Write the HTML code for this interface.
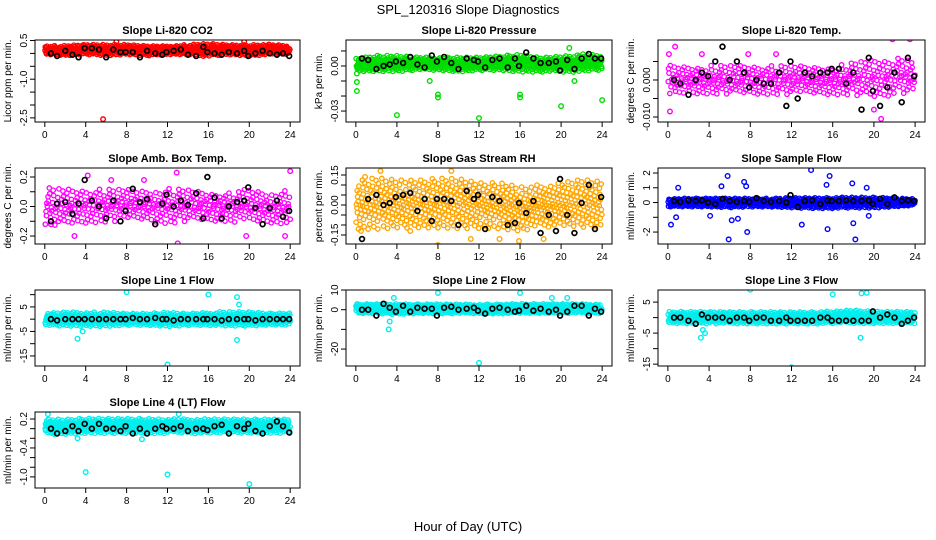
<!DOCTYPE html>
<html><head><meta charset="utf-8">
<style>
html,body{margin:0;padding:0;background:#fff;}
svg{display:block;font-family:"Liberation Sans",sans-serif;}
</style></head>
<body>
<svg id="chart" width="936" height="540" viewBox="0 0 936 540" xmlns="http://www.w3.org/2000/svg">
<text x="468" y="14" text-anchor="middle" font-size="13">SPL_120316  Slope Diagnostics</text>
<text x="468" y="531" text-anchor="middle" font-size="13">Hour of Day (UTC)</text>
</svg>
<script>
// ---- shared data ----
const xTicks = [0,4,8,12,16,20,24];
const bandHours = [0,2,4,6,8,10,12,14,16,18,20,22,24];
const blackHours = [0.6,1.2,2.0,2.7,3.3,3.9,4.6,5.3,6.0,6.7,7.4,7.9,8.6,9.3,10.0,10.8,11.5,11.9,12.6,13.3,14.0,14.8,15.5,15.9,16.6,17.3,18.0,18.8,19.5,19.9,20.6,21.3,22.0,22.7,23.3,23.9];

// ---- panel titles ----
const titles = ["Slope Li-820 CO2","Slope Li-820 Pressure","Slope Li-820 Temp.","Slope Amb. Box Temp.","Slope Gas Stream RH","Slope Sample Flow","Slope Line 1 Flow","Slope Line 2 Flow","Slope Line 3 Flow","Slope Line 4 (LT) Flow"];
const yTitles = ["Licor ppm per min.","kPa per min.","degrees C per min.","degrees C per min.","percent per min.","ml/min per min.","ml/min per min.","ml/min per min.","ml/min per min.","ml/min per min."];

// ---- y ticks / labels ----
const yTicks0 = [0.5,0,-0.5,-1.0,-1.5,-2.0,-2.5];            const yLabels0 = ["0.5","","","-1.0","","","-2.5"];
const yTicks1 = [0.01,0,-0.01,-0.02,-0.03];                  const yLabels1 = ["","0.00","","","-0.03"];
const yTicks2 = [0.005,0,-0.005,-0.01];                      const yLabels2 = ["","0.000","","-0.010"];
const yTicks3 = [0.2,0.1,0,-0.1,-0.2];                       const yLabels3 = ["0.2","","0.0","","-0.2"];
const yTicks4 = [0.15,0.1,0.05,0,-0.05,-0.1,-0.15];          const yLabels4 = ["0.15","","","0.00","","","-0.15"];
const yTicks5 = [2,1,0,-1,-2];                               const yLabels5 = ["2","1","0","","-2"];
const yTicks6 = [10,5,0,-5,-10,-15];                         const yLabels6 = ["","5","","-5","","-15"];
const yTicks7 = [10,0,-10,-20];                              const yLabels7 = ["10","0","","-20"];
const yTicks8 = [5,0,-5,-10,-15];                            const yLabels8 = ["5","","-5","","-15"];
const yTicks9 = [0.2,0,-0.2,-0.4,-0.6,-0.8,-1.0];            const yLabels9 = ["0.2","","","-0.4","","","-1.0"];

// ---- dense cloud envelope (lower/upper every 2 h) ----
const bandLo0 = [-0.05,-0.1,-0.05,-0.1,-0.05,-0.1,-0.05,-0.05,-0.1,-0.05,-0.1,-0.05,-0.05];
const bandHi0 = [0.3,0.3,0.35,0.35,0.35,0.3,0.3,0.35,0.4,0.35,0.35,0.35,0.3];
const bandLo1 = [-0.004,-0.004,-0.004,-0.003,-0.003,-0.004,-0.003,-0.003,-0.004,-0.004,-0.004,-0.004,-0.003];
const bandHi1 = [0.005,0.007,0.007,0.006,0.006,0.006,0.006,0.007,0.008,0.006,0.007,0.008,0.007];
const bandLo2 = [-0.005,-0.004,-0.004,-0.004,-0.004,-0.004,-0.004,-0.004,-0.004,-0.004,-0.005,-0.004,-0.004];
const bandHi2 = [0.004,0.004,0.004,0.004,0.004,0.004,0.004,0.004,0.004,0.005,0.006,0.006,0.005];
const bandLo3 = [-0.13,-0.14,-0.12,-0.11,-0.1,-0.1,-0.12,-0.1,-0.1,-0.1,-0.12,-0.12,-0.13];
const bandHi3 = [0.13,0.12,0.12,0.12,0.12,0.12,0.13,0.12,0.1,0.1,0.12,0.1,0.11];
const bandLo4 = [-0.13,-0.13,-0.12,-0.12,-0.12,-0.12,-0.12,-0.12,-0.13,-0.11,-0.11,-0.12,-0.12];
const bandHi4 = [0.12,0.14,0.13,0.13,0.14,0.14,0.12,0.12,0.1,0.1,0.11,0.13,0.12];
const bandLo5 = [-0.3,-0.3,-0.3,-0.35,-0.3,-0.3,-0.35,-0.4,-0.4,-0.4,-0.4,-0.3,-0.2];
const bandHi5 = [0.25,0.3,0.3,0.3,0.3,0.3,0.35,0.35,0.35,0.35,0.35,0.3,0.25];
const bandLo6 = [-2.5,-3,-3,-3,-2.5,-2.5,-3,-2.5,-2.5,-3,-3,-2.5,-2.5];
const bandHi6 = [2.5,3,3,3,2.5,2.5,3,2.5,3,3,3,2.5,2.5];
const bandLo7 = [-2,-2,-2.5,-2,-2,-2,-2,-2,-2,-2,-2,-2,-2];
const bandHi7 = [3,3,3,3,3,3,3,3,3,3,3,3,3];
const bandLo8 = [-2,-2,-2,-2,-2,-2,-2,-2,-2,-2,-2,-2,-2];
const bandHi8 = [2,2,2,2,2,2,2,2,2,2.5,2,2,2];
const bandLo9 = [-0.12,-0.12,-0.1,-0.1,-0.1,-0.1,-0.1,-0.1,-0.1,-0.1,-0.1,-0.1,-0.1];
const bandHi9 = [0.2,0.2,0.22,0.22,0.22,0.22,0.2,0.2,0.2,0.2,0.2,0.2,0.2];

// ---- coloured outliers ----
const outH0 = [5.7,7.0,19.5,15.5];               const outV0 = [-2.55,0.45,0.45,-0.1];
const outH1 = [0.1,0.1,0.1,4,8,8,12,16,16,20,24,20.8,7.2,21.3]; const outV1 = [-0.005,-0.0107,-0.0167,-0.0327,-0.019,-0.021,-0.0347,-0.019,-0.021,-0.0267,-0.0227,0.012,-0.01,-0.01];
const outH2 = [0.1,0.7,3.3,0.2,20.7,21.8,23.5,7.8,10.5,20.0]; const outV2 = [0.007,0.009,0.007,-0.0085,-0.0105,0.011,0.011,0.007,0.007,-0.008];
const outH3 = [4.2,12.9,13.0,19.7,24.0,23.5,2.9,9.7,0.6,6.5]; const outV3 = [0.21,0.23,-0.25,-0.2,0.24,-0.2,-0.2,0.18,-0.12,0.18];
const outH4 = [2.4,9.3,8.0,11.2,14.0,18.3,15.9,0.9,5.3,0.5]; const outV4 = [0.17,0.17,-0.2,-0.17,-0.17,-0.17,-0.18,0.14,-0.13,-0.13];
const outH5 = [0.3,0.8,1.0,5.8,5.9,6.2,7.4,7.7,7.6,13.9,13.0,15.4,15.7,15.5,17.9,18.2,18.0,19.5,19.3,4.1,5.2,6.8]; const outV5 = [-1.5,-1.0,1.0,1.8,-2.5,-1.2,1.4,-2.0,1.1,2.2,-1.5,1.2,1.8,-1.8,1.3,-2.5,-1.4,-0.9,1.0,-0.9,1.1,-1.1];
const outH6 = [8,16,18.8,19.0,3.2,12,18.8,3.7]; const outV6 = [11,10,9,6,-8,-18.5,-8.5,-5];
const outH7 = [8,16,3.2,3.3,12,3.7,19.1,20.6]; const outV7 = [8.5,8.5,-10,-6,-27,6,6,6];
const outH8 = [8,16,18.8,19.3,3.2,3.6,12,18.7,3.4]; const outV8 = [9,7.5,7.8,8,-6.5,-5,-16,-6.5,-4];
const outH9 = [0.3,4,12,20,3.2,13.1,9.5]; const outV9 = [0.3,-0.9,-0.95,-1.15,-0.2,0.3,-0.22];

// ---- black (hourly summary) points ----
const black0 = [0.0,-0.1,0.1,-0.05,-0.15,0.2,0.2,0.15,-0.15,0.15,0.05,0.05,0.05,-0.15,0.1,0.0,-0.05,0.05,0.1,0.15,-0.05,-0.1,0.25,0.05,0.0,-0.05,0.05,0.0,0.1,-0.1,0.0,0.1,0.0,-0.05,0.0,-0.1];
const black1 = [0.005,0.004,-0.002,0.0,0.001,0.003,0.002,0.006,0.001,-0.001,0.007,0.003,0.006,0.002,-0.002,0.005,0.004,0.003,-0.001,0.004,0.005,-0.001,0.005,0.0,0.009,0.005,0.002,0.002,0.003,-0.003,0.004,-0.002,0.005,0.008,0.005,0.005];
const black2 = [0.0,-0.001,-0.004,0.0,0.002,0.001,0.005,0.009,0.0,0.005,0.002,-0.002,0.0,-0.001,-0.001,0.002,-0.007,0.005,-0.005,0.002,0.001,0.002,0.002,0.003,0.003,-0.001,0.002,-0.008,0.006,-0.003,-0.007,-0.002,0.002,-0.006,0.006,0.001];
const black3 = [-0.1,0.02,0.03,-0.05,0.02,0.18,0.04,0.0,-0.08,0.04,-0.1,-0.03,0.12,0.03,0.05,-0.12,0.02,0.08,0.0,0.04,0.01,0.09,-0.08,0.2,0.06,-0.08,0.0,0.03,0.04,0.13,-0.01,-0.12,-0.01,0.04,-0.07,-0.03];
const black4 = [-0.17,0.03,0.05,0.0,0.01,0.04,0.05,0.06,-0.03,0.03,-0.08,0.03,0.03,0.02,-0.1,0.07,0.03,0.05,-0.12,0.04,0.02,-0.1,-0.09,0.01,-0.04,0.02,-0.14,-0.05,-0.13,0.13,-0.05,-0.14,0.01,0.1,-0.12,0.04];
const black5 = [0.1,0.05,0.15,0.1,0.15,0.0,-0.1,0.25,0.1,0.05,0.1,0.05,0.3,0.1,0.05,0.1,0.0,0.5,-0.3,0.1,0.15,-0.1,0.15,0.1,0.1,0.15,0.1,0.1,0.15,-0.1,0.25,-0.1,0.35,0.1,0.15,0.1];
const black6 = [0,-0.5,0,0,0,0,0,0,0,0,0,0,0.5,0,0,0.5,0,0,-0.5,0,0,0,0,0,0,-0.5,0,0,0,0,-0.5,0,0,0,0,0];
const black7 = [0,0,-3,3,1,-1,2,-1,1,0.5,0.5,-3,1,1.5,0,0.5,1,-0.5,-2,0.5,1,0,-1,-0.5,2,-0.5,0.5,-1,0,-3,-1,2,2,-3,0.5,-1];
const black8 = [0,0,-1,-2,1,0,0,0,-1,0,0,-1,0,0,-1,-1,0,-1,-1,-1,-1,0,0,-1,-1,-1,-1,-1,-1,2,0,1,0,-2,-1,0];
const black9 = [0.0,-0.1,-0.05,0.05,-0.05,0.1,0.0,0.1,0.0,0.0,-0.05,0.05,-0.1,0.0,-0.1,0.0,0.05,0.0,0.0,0.05,-0.05,0.0,0.0,-0.03,0.05,0.08,-0.1,0.05,0.0,0.1,-0.05,-0.1,0.05,0.15,0.05,-0.08];

// ---- layout (positions/styles, not data) ----
const yDomains = [[-2.66,0.52],[-0.0373,0.0173],[-0.01135,0.0108],[-0.254,0.261],[-0.195,0.185],[-2.81,2.34],[-19.1,11.9],[-28.6,10.0],[-15.6,8.9],[-1.23,0.345]];
const colX = [[35,300],[346,612],[658,925]];
const rowY = [[40,122],[168,244],[290,366],[412,488]];
const colors = ["#ff0000","#00dd00","#ff00ff","#ff00ff","#ffa500","#0000ff","#00eeee","#00eeee","#00eeee","#00eeee"];
const cloudCount = [650,650,420,420,650,650,650,650,650,650];

const yTicksAll=[yTicks0,yTicks1,yTicks2,yTicks3,yTicks4,yTicks5,yTicks6,yTicks7,yTicks8,yTicks9];
const yLabelsAll=[yLabels0,yLabels1,yLabels2,yLabels3,yLabels4,yLabels5,yLabels6,yLabels7,yLabels8,yLabels9];
const bandLoAll=[bandLo0,bandLo1,bandLo2,bandLo3,bandLo4,bandLo5,bandLo6,bandLo7,bandLo8,bandLo9];
const bandHiAll=[bandHi0,bandHi1,bandHi2,bandHi3,bandHi4,bandHi5,bandHi6,bandHi7,bandHi8,bandHi9];
const outHAll=[outH0,outH1,outH2,outH3,outH4,outH5,outH6,outH7,outH8,outH9];
const outVAll=[outV0,outV1,outV2,outV3,outV4,outV5,outV6,outV7,outV8,outV9];
const blackAll=[black0,black1,black2,black3,black4,black5,black6,black7,black8,black9];

const NS="http://www.w3.org/2000/svg";
const svg=document.getElementById('chart');
function mk(tag,attrs,parent){const e=document.createElementNS(NS,tag);for(const k in attrs)e.setAttribute(k,attrs[k]);(parent||svg).appendChild(e);return e;}
function interp(arr,h){const i=Math.min(11,Math.max(0,Math.floor(h/2)));const t=(h-bandHours[i])/2;return arr[i]+(arr[i+1]-arr[i])*t;}
function frac(v){return v-Math.floor(v);}

for(let p=0;p<10;p++){
  const col=p%3,row=Math.floor(p/3);
  const [x0,x1]=colX[col],[y0,y1]=rowY[row];
  const xScale=h=>x0+(h+0.96)/25.92*(x1-x0);
  const [d0,d1]=yDomains[p];
  const yScale=v=>y1-(v-d0)/(d1-d0)*(y1-y0);
  const g=mk('g',{});
  
  
  const cx=(x0+x1)/2;
  const t=mk('text',{x:cx,y:y0-6,'text-anchor':'middle','font-size':11,'font-weight':'bold'},g);
  t.textContent=titles[p];
  
  
  const yt=mk('text',{x:0,y:0,'text-anchor':'middle','font-size':10,transform:`translate(${x0-24},${(y0+y1)/2}) rotate(-90)`},g);
  yt.textContent=yTitles[p];
  
  
  const cid='clip'+p;
  const cp=mk('clipPath',{id:cid},g);mk('rect',{x:x0,y:y0,width:x1-x0,height:y1-y0},cp);
  const pts=mk('g',{'clip-path':`url(#${cid})`},g);
  
  
  // cloud: scattered within the envelope (low-discrepancy placement)
  let d='';
  const n=cloudCount[p];
  for(let i=1;i<=n;i++){
    const h=frac(i*0.6180339887+p*0.13)*24;
    const u=frac(i*0.7548776662+p*0.29);
    const lo=interp(bandLoAll[p],h),hi=interp(bandHiAll[p],h);
    const v=lo+(hi-lo)*(0.5+(u-0.5)*(0.6+0.4*Math.abs(u-0.5)*2));
    const X=xScale(h),Y=yScale(v);
    d+=`M${(X-2.2).toFixed(1)},${Y.toFixed(1)}a2.2,2.2 0 1,0 4.4,0a2.2,2.2 0 1,0 -4.4,0`;
  }
  const band=mk('path',{d:d,fill:'none',stroke:colors[p],'stroke-width':1.3},pts);
  
  
  outHAll[p].forEach((h,i)=>{
    const c=mk('circle',{cx:xScale(h),cy:yScale(outVAll[p][i]),r:2.3,fill:'none',stroke:colors[p],'stroke-width':1.4},pts);
    
    
  });
  blackHours.forEach((h,i)=>{
    const c=mk('circle',{cx:xScale(h),cy:yScale(blackAll[p][i]),r:2.4,fill:'none',stroke:'#000','stroke-width':1.7},pts);
    
    
  });
  const b=mk('rect',{x:x0,y:y0,width:x1-x0,height:y1-y0,fill:'none',stroke:'#000','stroke-width':1},g);
  
  
  const xa=mk('g',{},g);
  
  
  mk('line',{x1:xScale(0),x2:xScale(24),y1:y1,y2:y1,stroke:'#000'},xa);
  xTicks.forEach(v=>{
    mk('line',{x1:xScale(v),x2:xScale(v),y1:y1,y2:y1+5,stroke:'#000'},xa);
    const tl=mk('text',{x:xScale(v),y:y1+16,'text-anchor':'middle','font-size':10},xa);
    tl.textContent=v;
    
    
  });
  const ya=mk('g',{},g);
  
  
  const yt0=yTicksAll[p];
  mk('line',{x1:x0,x2:x0,y1:yScale(yt0[0]),y2:yScale(yt0[yt0.length-1]),stroke:'#000'},ya);
  yt0.forEach((v,i)=>{
    const Y=yScale(v);
    mk('line',{x1:x0-5,x2:x0,y1:Y,y2:Y,stroke:'#000'},ya);
    const lab=yLabelsAll[p][i];
    if(lab){
      const tl=mk('text',{x:0,y:0,'text-anchor':'middle','font-size':10,transform:`translate(${x0-8},${Y}) rotate(-90)`},ya);
      tl.textContent=lab;
      
      
    }
  });
}
</script>
</body></html>
